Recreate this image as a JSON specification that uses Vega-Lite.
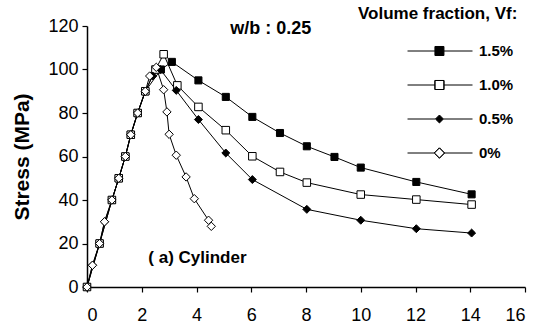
{
  "$schema": "https://vega.github.io/schema/vega-lite/v6.json",
  "width": 438,
  "height": 261,
  "autosize": {"type": "none"},
  "padding": {"left": 87, "top": 26, "right": 13, "bottom": 40},
  "background": "white",
  "config": {
    "view": {"stroke": null},
    "font": "Liberation Sans",
    "axis": {
      "grid": false,
      "domainColor": "black",
      "domainWidth": 1.5,
      "tickColor": "black",
      "tickWidth": 1.2,
      "tickSize": 5,
      "labelColor": "black",
      "labelFont": "Liberation Sans",
      "titleColor": "black",
      "titleFont": "Liberation Sans"
    },
    "legend": {
      "clipHeight": 16,
      "rowPadding": 18,
      "padding": 0
    }
  },
  "data": {
    "values": [
      {"series": "1.5%", "strain": 0, "stress": 0},
      {"series": "1.5%", "strain": 0.46, "stress": 20},
      {"series": "1.5%", "strain": 0.91, "stress": 40},
      {"series": "1.5%", "strain": 1.16, "stress": 50},
      {"series": "1.5%", "strain": 1.4, "stress": 60},
      {"series": "1.5%", "strain": 1.6, "stress": 70},
      {"series": "1.5%", "strain": 1.85, "stress": 80},
      {"series": "1.5%", "strain": 2.13, "stress": 90},
      {"series": "1.5%", "strain": 2.7, "stress": 100},
      {"series": "1.5%", "strain": 3.1, "stress": 103.5},
      {"series": "1.5%", "strain": 4.07, "stress": 95},
      {"series": "1.5%", "strain": 5.07, "stress": 87.4},
      {"series": "1.5%", "strain": 6.04, "stress": 78.2},
      {"series": "1.5%", "strain": 7.05, "stress": 70.8},
      {"series": "1.5%", "strain": 8.03, "stress": 64.7},
      {"series": "1.5%", "strain": 9.04, "stress": 59.8},
      {"series": "1.5%", "strain": 10.0, "stress": 54.9},
      {"series": "1.5%", "strain": 12.03, "stress": 48.3},
      {"series": "1.5%", "strain": 14.05, "stress": 42.6},

      {"series": "1.0%", "strain": 0, "stress": 0},
      {"series": "1.0%", "strain": 0.46, "stress": 20},
      {"series": "1.0%", "strain": 0.91, "stress": 40},
      {"series": "1.0%", "strain": 1.16, "stress": 50},
      {"series": "1.0%", "strain": 1.4, "stress": 60},
      {"series": "1.0%", "strain": 1.6, "stress": 70},
      {"series": "1.0%", "strain": 1.85, "stress": 80},
      {"series": "1.0%", "strain": 2.13, "stress": 90},
      {"series": "1.0%", "strain": 2.5, "stress": 100},
      {"series": "1.0%", "strain": 2.8, "stress": 107},
      {"series": "1.0%", "strain": 3.3, "stress": 92.7},
      {"series": "1.0%", "strain": 4.07, "stress": 82.8},
      {"series": "1.0%", "strain": 5.07, "stress": 72.1},
      {"series": "1.0%", "strain": 6.04, "stress": 60.1},
      {"series": "1.0%", "strain": 7.05, "stress": 52.9},
      {"series": "1.0%", "strain": 8.03, "stress": 48},
      {"series": "1.0%", "strain": 10.0, "stress": 42.5},
      {"series": "1.0%", "strain": 12.03, "stress": 40.2},
      {"series": "1.0%", "strain": 14.05, "stress": 37.9},

      {"series": "0.5%", "strain": 0, "stress": 0},
      {"series": "0.5%", "strain": 0.2, "stress": 10},
      {"series": "0.5%", "strain": 0.46, "stress": 20},
      {"series": "0.5%", "strain": 0.64, "stress": 30},
      {"series": "0.5%", "strain": 0.91, "stress": 40},
      {"series": "0.5%", "strain": 1.16, "stress": 50},
      {"series": "0.5%", "strain": 1.4, "stress": 60},
      {"series": "0.5%", "strain": 1.6, "stress": 70},
      {"series": "0.5%", "strain": 1.85, "stress": 80},
      {"series": "0.5%", "strain": 2.13, "stress": 90},
      {"series": "0.5%", "strain": 2.4, "stress": 97},
      {"series": "0.5%", "strain": 2.68, "stress": 100},
      {"series": "0.5%", "strain": 3.26, "stress": 90.4},
      {"series": "0.5%", "strain": 4.07, "stress": 77},
      {"series": "0.5%", "strain": 5.07, "stress": 61.6},
      {"series": "0.5%", "strain": 6.04, "stress": 49.4},
      {"series": "0.5%", "strain": 8.03, "stress": 35.7},
      {"series": "0.5%", "strain": 10.0, "stress": 30.7},
      {"series": "0.5%", "strain": 12.03, "stress": 26.8},
      {"series": "0.5%", "strain": 14.05, "stress": 24.8},

      {"series": "0%", "strain": 0, "stress": 0},
      {"series": "0%", "strain": 0.2, "stress": 10},
      {"series": "0%", "strain": 0.46, "stress": 20},
      {"series": "0%", "strain": 0.64, "stress": 30},
      {"series": "0%", "strain": 0.91, "stress": 40},
      {"series": "0%", "strain": 1.16, "stress": 50},
      {"series": "0%", "strain": 1.4, "stress": 60},
      {"series": "0%", "strain": 1.6, "stress": 70},
      {"series": "0%", "strain": 1.85, "stress": 80},
      {"series": "0%", "strain": 2.13, "stress": 90},
      {"series": "0%", "strain": 2.29, "stress": 97},
      {"series": "0%", "strain": 2.53, "stress": 101},
      {"series": "0%", "strain": 2.8, "stress": 90.7},
      {"series": "0%", "strain": 2.92, "stress": 80.5},
      {"series": "0%", "strain": 3.0, "stress": 70.2},
      {"series": "0%", "strain": 3.26, "stress": 60.6},
      {"series": "0%", "strain": 3.62, "stress": 50.6},
      {"series": "0%", "strain": 3.92, "stress": 40.6},
      {"series": "0%", "strain": 4.44, "stress": 30.7},
      {"series": "0%", "strain": 4.54, "stress": 27.9}
    ]
  },
  "encoding": {
    "x": {
      "field": "strain", "type": "quantitative",
      "scale": {"domain": [0, 16], "nice": false},
      "axis": {"values": [0, 2, 4, 6, 8, 10, 12, 14, 16], "labelFontSize": 18, "labelPadding": 14, "title": null}
    },
    "y": {
      "field": "stress", "type": "quantitative",
      "scale": {"domain": [0, 120], "nice": false},
      "axis": {"values": [0, 20, 40, 60, 80, 100, 120], "labelFontSize": 18, "labelPadding": 4, "title": "Stress (MPa)", "titleFontSize": 21, "titleFontWeight": "bold", "titlePadding": 15}
    }
  },
  "layer": [
    {
      "mark": {"type": "line", "color": "black", "strokeWidth": 1},
      "encoding": {"detail": {"field": "series"}}
    },
    {
      "mark": {"type": "point", "stroke": "black", "strokeWidth": 1, "opacity": 1},
      "encoding": {
        "shape": {"field": "series", "type": "nominal",
          "scale": {"domain": ["1.5%", "1.0%", "0.5%", "0%"], "range": ["square", "square", "diamond", "diamond"]},
          "legend": null},
        "fill": {"field": "series", "type": "nominal",
          "scale": {"domain": ["1.5%", "1.0%", "0.5%", "0%"], "range": ["black", "white", "black", "white"]},
          "legend": null},
        "size": {"field": "series", "type": "nominal",
          "scale": {"domain": ["1.5%", "1.0%", "0.5%", "0%"], "range": [50, 70, 45, 90]},
          "legend": null}
      }
    },
    {
      "transform": [{"filter": "datum.stress > 1000"}],
      "mark": {"type": "point", "filled": true, "fill": "black", "stroke": "black", "strokeWidth": 1, "opacity": 1},
      "encoding": {
        "shape": {"field": "series", "type": "nominal",
          "scale": {"domain": ["1.5%", "1.0%", "0.5%", "0%"],
            "range": [
              "M-0.14,0H0.341M0.341,-0.079H0.499V0.079H0.341ZM0.499,0H1",
              "M-0.14,0H0.341M0.341,-0.079H0.499V0.079H0.341ZM0.341,-0.079V0.079H0.499V-0.079ZM0.499,0H1",
              "M-0.14,0H0.35M0.35,0L0.42,-0.07L0.49,0L0.42,0.07ZM0.49,0H1",
              "M-0.14,0H0.33M0.33,0L0.42,-0.09L0.51,0L0.42,0.09ZM0.33,0L0.42,0.09L0.51,0L0.42,-0.09ZM0.51,0H1"
            ]},
          "legend": {
            "orient": "none",
            "legendX": 271,
            "legendY": -20,
            "direction": "vertical",
            "title": "Volume fraction, Vf:",
            "titleFontSize": 17,
            "titleFontWeight": "bold",
            "titleColor": "black",
            "titleFont": "Liberation Sans",
            "titlePadding": 20,
            "symbolSize": 12996,
            "symbolStrokeWidth": 1,
            "labelFontSize": 15,
            "labelFontWeight": "bold",
            "labelColor": "black",
            "labelFont": "Liberation Sans",
            "labelOffset": 6
          }
        }
      }
    },
    {
      "transform": [{"filter": "datum.series == '0%' && datum.strain == 0"}],
      "mark": {"type": "text", "text": "w/b : 0.25", "font": "Liberation Sans", "fontSize": 18, "fontWeight": "bold", "align": "right", "baseline": "middle", "color": "black"},
      "encoding": {"x": {"datum": 8.19}, "y": {"datum": 118.5}}
    },
    {
      "transform": [{"filter": "datum.series == '0%' && datum.strain == 0"}],
      "mark": {"type": "text", "text": "( a) Cylinder", "font": "Liberation Sans", "fontSize": 17, "fontWeight": "bold", "align": "left", "baseline": "middle", "color": "black"},
      "encoding": {"x": {"datum": 2.24}, "y": {"datum": 13.2}}
    }
  ],
  "resolve": {
    "scale": {"shape": "independent", "fill": "independent", "size": "independent"},
    "legend": {"shape": "independent"}
  }
}
